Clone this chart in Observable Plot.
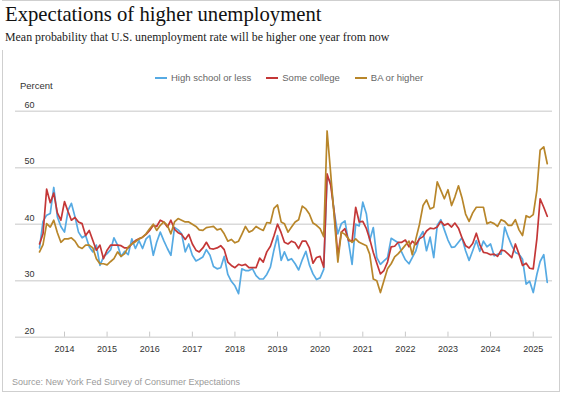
<!DOCTYPE html>
<html>
<head>
<meta charset="utf-8">
<script src="https://cdn.jsdelivr.net/npm/d3@7"></script>
<script src="https://cdn.jsdelivr.net/npm/@observablehq/plot@0.6"></script>
<style>
html, body { margin: 0; padding: 0; background: #fff; }
#wrap { position: relative; width: 564px; height: 394px; overflow: hidden; font-family: "Liberation Sans", Arial, sans-serif; background: #fff; }
#frame { position: absolute; left: 2px; top: 0; width: 556px; height: 390px; border: 1px solid #cfcfcf; }
#mask { position: absolute; left: 0; top: 1px; width: 6px; height: 49px; background: #fff; }
#title { position: absolute; left: 5px; top: 3.5px; font-family: "Liberation Serif", serif; font-size: 20.7px; line-height: 20px; color: #111; white-space: nowrap; }
#subtitle { position: absolute; left: 5px; top: 32.3px; font-family: "Liberation Serif", serif; font-size: 11.9px; line-height: 11px; color: #222; white-space: nowrap; }
#legend { position: absolute; left: 155px; top: 72px; display: flex; align-items: center; font-size: 9.5px; line-height: 12px; color: #666; white-space: nowrap; }
#legend .item { display: flex; align-items: center; margin-right: 15px; }
#legend .sw { width: 12px; height: 2px; margin-right: 4px; }
#percent { position: absolute; left: 20px; top: 80px; font-size: 9.5px; line-height: 12px; color: #333; }
#source { position: absolute; left: 12px; top: 377px; font-size: 9px; line-height: 11px; color: #9a9a9a; white-space: nowrap; }
#chart { position: absolute; left: 0; top: 92px; }
</style>
</head>
<body>
<div id="wrap">
  <div id="frame"></div>
  <div id="mask"></div>
  <div id="title">Expectations of higher unemployment</div>
  <div id="subtitle">Mean probability that U.S. unemployment rate will be higher one year from now</div>
  <div id="legend"></div>
  <div id="percent">Percent</div>
  <div id="chart"></div>
  <div id="source">Source: New York Fed Survey of Consumer Expectations</div>
</div>
<script>
// Monthly series, first observation June 2013, last May 2025
const startYear = 2013;
const startMonth = 5; // June (0-based)

const seriesNames = ["High school or less", "Some college", "BA or higher"];
const seriesColors = ["#56aae3", "#c43737", "#b8862a"];

const highSchoolOrLess = [
  35.8, 40.5, 41.6, 41.9, 46.5, 41.3, 39.6, 38.6, 42.5, 43.7, 41.3, 38.6,
  37.6, 38.0, 36.0, 35.1, 36.3, 32.7, 34.2, 34.8, 35.5, 37.6, 36.3, 34.3,
  35.2, 34.6, 37.4, 35.7, 37.1, 35.7, 37.4, 38.0, 34.5, 36.8, 38.6, 37.1,
  35.7, 34.5, 39.4, 39.0, 38.3, 35.1, 36.5, 34.5, 33.5, 33.8, 34.2, 35.5,
  34.5, 32.5, 32.1, 32.3, 34.3, 31.1, 29.9, 29.1, 27.7, 32.1, 31.8, 31.8,
  32.1, 30.9, 30.3, 30.3, 31.1, 32.4, 35.4, 38.0, 33.6, 35.1, 33.6, 33.9,
  33.0, 31.9, 33.7, 35.2, 32.8, 31.2, 30.2, 30.5, 32.0, 48.3, 47.5, 42.1,
  38.3, 40.1, 40.6, 36.8, 32.9, 40.0, 39.7, 43.9, 41.8, 37.1, 39.4, 34.1,
  32.9, 33.5, 34.1, 37.5, 37.1, 36.7, 35.0, 33.7, 33.0, 34.1, 35.3, 37.6,
  38.7, 35.3, 37.7, 34.1, 39.8, 40.8, 39.0, 37.2, 35.9, 36.0, 36.8, 37.6,
  35.3, 33.6, 35.3, 37.1, 35.2, 37.0, 36.0, 36.5, 34.4, 34.7, 34.7, 39.5,
  37.7, 36.2, 35.0, 34.7, 33.8, 29.4, 29.9, 27.9, 31.1, 33.4, 34.6, 29.7
];

const someCollege = [
  36.5, 38.3, 46.2, 43.8, 45.5, 42.0, 40.7, 44.0, 42.2, 40.7, 41.2, 40.4,
  40.1, 38.0, 38.9, 37.1, 35.4, 36.3, 33.9, 35.4, 36.3, 36.3, 36.3, 36.2,
  35.8, 35.8, 36.5, 37.1, 37.4, 37.7, 38.2, 38.9, 39.8, 39.6, 40.7, 40.4,
  39.5, 40.7, 39.1, 38.5, 38.2, 37.3, 38.2, 36.5, 35.4, 35.1, 35.8, 36.8,
  35.7, 35.6, 35.8, 36.2, 35.5, 33.3, 32.7, 32.3, 32.9, 32.7, 32.9, 32.3,
  32.3, 32.3, 34.0, 33.3, 35.1, 36.1, 37.9, 40.0, 38.5, 36.8, 36.5, 37.0,
  36.7, 35.7, 37.0, 37.0, 35.8, 33.1, 34.1, 34.3, 32.4, 48.9, 46.9, 42.1,
  34.4, 38.6, 39.2, 37.1, 37.0, 43.0, 40.4, 40.5, 39.2, 37.4, 35.0, 33.1,
  31.2, 31.8, 33.3, 36.0, 36.1, 36.8, 36.8, 37.2, 36.0, 37.0, 36.4, 37.4,
  37.8, 38.8, 39.3, 39.2, 39.5, 40.5, 39.8, 40.1, 39.5, 40.2, 39.3, 37.6,
  36.2, 35.8, 36.6, 38.4, 36.4, 35.0, 34.9, 34.6, 34.7, 34.3, 35.4, 35.3,
  34.7, 34.1, 36.5, 34.7, 32.7, 33.1, 32.2, 32.1, 37.4, 44.5, 43.0, 41.4
];

const baOrHigher = [
  35.1, 36.4, 40.1, 39.5, 40.7, 38.5, 36.8, 37.4, 37.4, 37.6, 37.0, 36.0,
  35.7, 36.3, 36.3, 35.8, 33.9, 33.0, 33.0, 32.8, 33.4, 33.9, 35.1, 34.3,
  34.8, 36.0, 36.5, 36.9, 37.4, 37.7, 38.3, 39.2, 40.0, 38.9, 39.8, 40.4,
  39.8, 38.3, 40.4, 41.0, 40.7, 40.4, 40.4, 40.0, 39.6, 39.0, 38.9, 39.4,
  39.5, 39.6, 39.0, 39.2, 38.3, 37.0, 37.3, 36.7, 37.0, 38.2, 39.6, 38.6,
  38.9, 39.6, 39.2, 38.9, 40.3, 40.2, 42.8, 43.4, 40.4, 40.1, 38.6, 39.5,
  40.4, 40.8, 43.2, 42.7, 41.8, 40.2, 39.8, 39.2, 37.8, 56.5, 48.9, 41.2,
  33.3, 38.6, 38.2, 37.4, 36.8, 37.4, 36.8, 36.5, 36.2, 34.7, 30.3, 30.0,
  27.9, 30.0, 32.1, 33.0, 34.2, 34.8, 35.5, 36.3, 37.0, 34.6, 37.4, 39.9,
  43.3, 44.3, 42.7, 43.0, 47.5, 46.0, 44.5, 46.1, 43.3, 44.8, 46.8, 44.7,
  41.8, 40.5, 42.0, 43.0, 43.0, 43.0, 40.1, 40.4, 40.1, 39.6, 40.8, 40.5,
  39.8, 39.8, 40.8, 39.0, 38.0, 41.5, 41.2, 41.7, 46.0, 53.1, 53.7, 50.7
];

const yTicks = [20, 30, 40, 50, 60];
const yearTicks = [2014, 2015, 2016, 2017, 2018, 2019, 2020, 2021, 2022, 2023, 2024, 2025];

const allSeries = [highSchoolOrLess, someCollege, baOrHigher];
const rows = [];
allSeries.forEach((vals, s) => {
  vals.forEach((v, i) => {
    rows.push({ date: new Date(startYear, startMonth + i, 1), value: v, series: seriesNames[s] });
  });
});
const yearDates = yearTicks.map(y => new Date(y, 0, 1));

// legend
const legend = document.getElementById("legend");
seriesNames.forEach((n, i) => {
  const it = document.createElement("div");
  it.className = "item";
  it.innerHTML = `<span class="sw" style="background:${seriesColors[i]}"></span><span>${n}</span>`;
  legend.appendChild(it);
});

const chart = Plot.plot({
  width: 564,
  height: 268,
  marginLeft: 15,
  marginRight: 12,
  marginTop: 18.7,
  marginBottom: 23.3,
  style: { fontFamily: "'Liberation Sans', Arial, sans-serif", background: "transparent" },
  x: { type: "time", domain: [new Date(2012, 10, 7), new Date(2025, 5, 15)] },
  y: { domain: [20, 60] },
  color: { domain: seriesNames, range: seriesColors },
  marks: [
    Plot.ruleY(yTicks, { stroke: "#dadada", strokeWidth: 1.5 }),
    Plot.ruleX(yearDates, { y1: 20, y2: 20.9, stroke: "#c8c8c8", strokeWidth: 1 }),
    Plot.axisY(yTicks, { tickSize: 0, tickPadding: 0, textAnchor: "start", dx: 9, dy: -6.5, fontSize: 9, fill: "#333", label: null }),
    Plot.axisX(yearDates, { tickSize: 0, tickPadding: 8, tickFormat: "%Y", fontSize: 9, fill: "#333", label: null }),
    Plot.lineY(rows, { x: "date", y: "value", z: "series", stroke: "series", strokeWidth: 1.7, strokeLinejoin: "round" })
  ]
});
document.getElementById("chart").appendChild(chart);
</script>
</body>
</html>
